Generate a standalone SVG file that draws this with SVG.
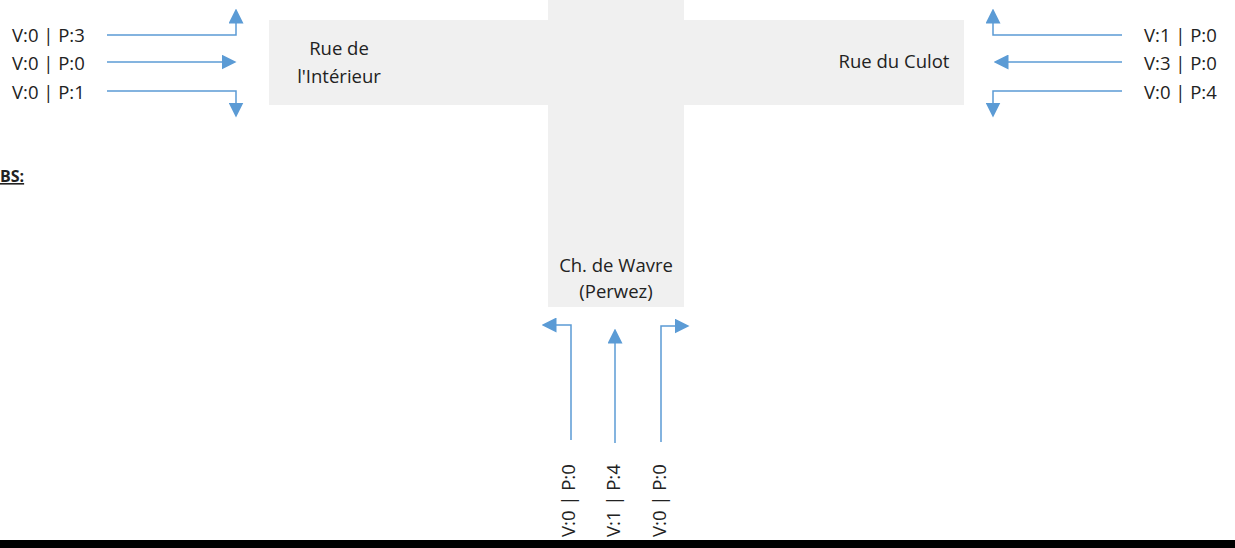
<svg xmlns="http://www.w3.org/2000/svg" width="1235" height="548" viewBox="0 0 1235 548">
<style>
.road{fill:#f0f0f0}
.lbl{font-family:"Open Sans","Liberation Sans",sans-serif;font-size:18.5px;fill:#222}
.ln{fill:none;stroke:#5b9bd5;stroke-width:1.5}
</style>
<defs>
<marker id="ah" viewBox="0 0 15 15" refX="0.5" refY="7.5" markerWidth="15" markerHeight="15" markerUnits="userSpaceOnUse" orient="auto">
<path d="M0,0 L15,7.5 L0,15 z" fill="#5b9bd5"/>
</marker>
</defs>
<rect width="1235" height="548" fill="#fff"/>
<g id="roads">
<rect class="road" x="269" y="20" width="695" height="85"/>
<rect class="road" x="548" y="0" width="136" height="307"/>
</g>
<g id="road-interieur"><text class="lbl" x="339" y="55" text-anchor="middle">Rue de</text><text class="lbl" x="339" y="83" text-anchor="middle">l'Intérieur</text></g>
<g id="road-culot"><text class="lbl" x="894" y="68" text-anchor="middle">Rue du Culot</text></g>
<g id="road-wavre"><text class="lbl" x="616" y="272" text-anchor="middle">Ch. de Wavre</text><text class="lbl" x="616" y="298" text-anchor="middle">(Perwez)</text></g>
<g id="counts-left">
<text class="lbl" x="12" y="42">V:0 | P:3</text>
<text class="lbl" x="12" y="70">V:0 | P:0</text>
<text class="lbl" x="12" y="99">V:0 | P:1</text>
</g>
<g id="counts-right">
<text class="lbl" x="1144" y="42">V:1 | P:0</text>
<text class="lbl" x="1144" y="70">V:3 | P:0</text>
<text class="lbl" x="1144" y="99">V:0 | P:4</text>
</g>
<g id="counts-bottom">
<text class="lbl" transform="translate(575,537) rotate(-90)">V:0 | P:0</text>
<text class="lbl" transform="translate(620,537) rotate(-90)">V:1 | P:4</text>
<text class="lbl" transform="translate(666,537) rotate(-90)">V:0 | P:0</text>
</g>
<g id="obs"><text x="0" y="182" style="font-family:'Open Sans','Liberation Sans',sans-serif;font-size:16px;font-weight:bold;text-decoration:underline;fill:#222">BS:</text></g>
<g id="connectors">
<path class="ln" d="M107,35 H236 V23" marker-end="url(#ah)"/>
<path class="ln" d="M107,62 H222" marker-end="url(#ah)"/>
<path class="ln" d="M107,91 H236 V103" marker-end="url(#ah)"/>
<path class="ln" d="M1122,35 H993 V23" marker-end="url(#ah)"/>
<path class="ln" d="M1122,62 H1008" marker-end="url(#ah)"/>
<path class="ln" d="M1122,91 H993 V103" marker-end="url(#ah)"/>
<path class="ln" d="M571,440 V325 H556" marker-end="url(#ah)"/>
<path class="ln" d="M615,443 V343" marker-end="url(#ah)"/>
<path class="ln" d="M661,442 V326 H675" marker-end="url(#ah)"/>
</g>
<rect x="0" y="540" width="1235" height="8" fill="#000"/>
</svg>
